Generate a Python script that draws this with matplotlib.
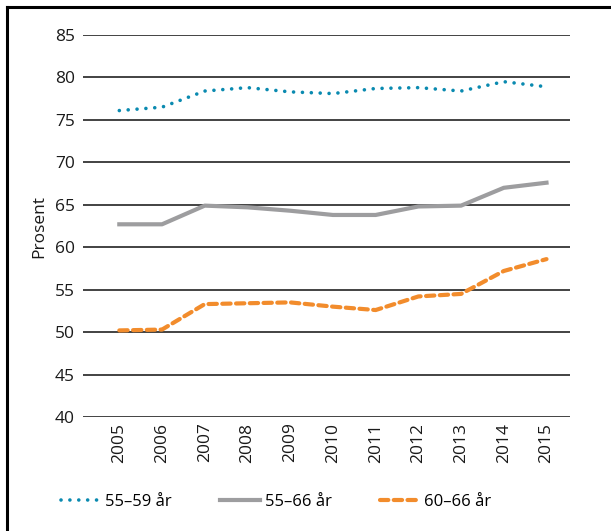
import matplotlib
matplotlib.use("Agg")
import matplotlib.pyplot as plt
from matplotlib.lines import Line2D

# Data
years = [2005, 2006, 2007, 2008, 2009, 2010, 2011, 2012, 2013, 2014, 2015]
age_55_59 = [76.1, 76.5, 78.4, 78.8, 78.3, 78.1, 78.7, 78.8, 78.4, 79.5, 78.9]
age_55_66 = [62.7, 62.7, 64.9, 64.7, 64.3, 63.8, 63.8, 64.8, 64.9, 67.0, 67.6]
age_60_66 = [50.2, 50.3, 53.3, 53.4, 53.5, 53.0, 52.6, 54.2, 54.5, 57.2, 58.6]
labels = ["55\u201359 år", "55\u201366 år", "60\u201366 år"]
yticks = [40, 45, 50, 55, 60, 65, 70, 75, 80, 85]

plt.rcParams['font.family'] = ['Open Sans', 'DejaVu Sans']

W, H = 611, 531
fig = plt.figure(figsize=(W / 100, H / 100), dpi=100)
ax = fig.add_axes([83 / W, 1 - 417 / H, (570 - 83) / W, (417 - 35) / H])

# gridlines
for y in yticks:
    ax.axhline(y, color='#222222', lw=1.2, zorder=1)

ax.plot(years, age_55_59, color='#0a8ab0', lw=2.6, linestyle=(0, (0.01, 2.45)),
        dash_capstyle='round', label=labels[0], zorder=3)
ax.plot(years, age_55_66, color='#9d9d9f', lw=3.0, solid_joinstyle='round',
        label=labels[1], zorder=3)
ax.plot(years, age_60_66, color='#f28c2c', lw=3.0, linestyle=(0, (2.0, 1.3)),
        dash_capstyle='round', label=labels[2], zorder=3)

ax.set_xlim(2004.15, 2015.55)
ax.set_ylim(40, 85)
ax.set_yticks(yticks)
ax.set_xticks(years)
ax.set_xticklabels([str(y) for y in years], rotation=90)
ax.tick_params(axis='both', length=0, labelsize=12.5, colors='#1a1a1a')
ax.tick_params(axis='y', pad=6)
ax.tick_params(axis='x', pad=4)
for s in ax.spines.values():
    s.set_visible(False)
ax.set_ylabel("Prosent", fontsize=12.5, color='#1a1a1a', labelpad=5)

fig.legend(loc='center', bbox_to_anchor=(0.452, 1 - 502 / H), ncol=3,
           frameon=False, fontsize=12, handlelength=2.4, handletextpad=0.25,
           columnspacing=2.9)

# frame around figure (top and left only visible)
fig.add_artist(Line2D([7 / W, 1.0], [1 - 7 / H, 1 - 7 / H], color='black', lw=2.2,
                      transform=fig.transFigure))
fig.add_artist(Line2D([7 / W, 7 / W], [0, 1 - 7 / H], color='black', lw=2.2,
                      transform=fig.transFigure))

fig.savefig("out.png", dpi=100)
